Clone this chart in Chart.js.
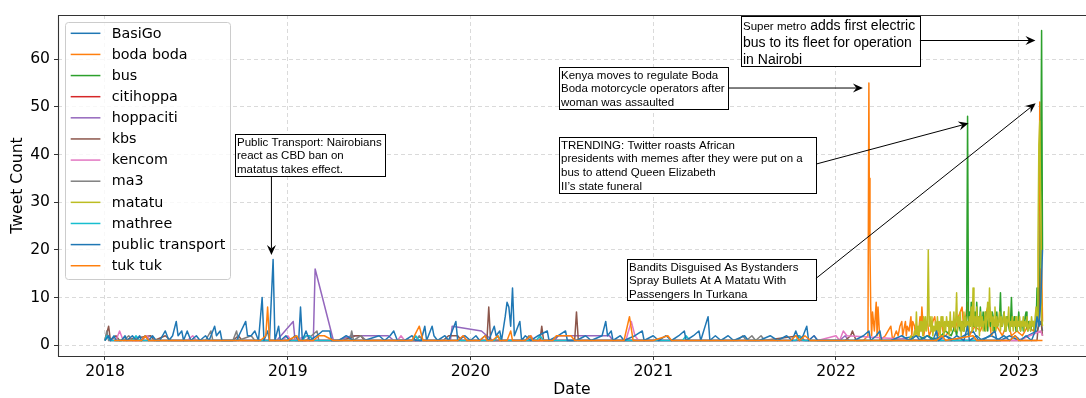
<!DOCTYPE html>
<html><head><meta charset="utf-8">
<script src="https://cdn.jsdelivr.net/npm/chart.js@4.4.0/dist/chart.umd.min.js"></script>
<style>html,body{margin:0;padding:0;background:#fff;overflow:hidden}canvas{display:block}</style>
</head><body>
<canvas id="c" width="1086" height="398"></canvas>
<script>
// ---- data: [decimal year, tweet count] ----
const seriesNames = ['BasiGo','boda boda','bus','citihoppa','hoppaciti','kbs','kencom','ma3','matatu','mathree','public transport','tuk tuk'];
const seriesColors = ['#1f77b4','#ff7f0e','#2ca02c','#d62728','#9467bd','#8c564b','#e377c2','#7f7f7f','#bcbd22','#17becf','#1f77b4','#ff7f0e'];
const yearTicks = [2018,2019,2020,2021,2022,2023];
const countTicks = [0,10,20,30,40,50,60];

const basiGo = [[2022.30,1],[2022.45,2],[2022.50,1],[2022.60,2],[2022.65,1],[2022.75,3],[2022.78,1],[2022.85,2],[2022.90,1],[2022.95,2],[2023.00,1],[2023.05,2],[2023.10,3],[2023.12,5],[2023.13,3]];
const bodaBoda = [[2022.10,1],[2022.15,1],[2022.175,2],[2022.18,55],[2022.182,35],[2022.186,20],[2022.19,8],[2022.195,2],[2022.20,7],[2022.21,3],[2022.22,9],[2022.225,2],[2022.23,8],[2022.24,1],[2022.27,2],[2022.30,4],[2022.31,1],[2022.33,3],[2022.34,2],[2022.35,4],[2022.36,5],[2022.365,2],[2022.37,3],[2022.38,5],[2022.385,2],[2022.39,4],[2022.40,3],[2022.41,6],[2022.415,2],[2022.42,5],[2022.43,4],[2022.435,2],[2022.44,3],[2022.45,2],[2022.46,6],[2022.465,3],[2022.47,8],[2022.48,2],[2022.49,4],[2022.50,5],[2022.51,2],[2022.52,3],[2022.53,5],[2022.54,6],[2022.55,3],[2022.56,2],[2022.57,4],[2022.58,4],[2022.59,2],[2022.60,2],[2022.62,3],[2022.63,5],[2022.65,3],[2022.67,6],[2022.69,8],[2022.70,3],[2022.72,9],[2022.73,2],[2022.76,4],[2022.79,3],[2022.81,5],[2022.83,8],[2022.85,2],[2022.88,4],[2022.91,2],[2022.94,5],[2022.96,2],[2022.99,3],[2023.02,2],[2023.05,4],[2023.08,3],[2023.10,6],[2023.11,12],[2023.115,51],[2023.12,30],[2023.13,5]];
const bus = [[2022.45,1],[2022.50,2],[2022.55,1],[2022.60,3],[2022.63,2],[2022.65,4],[2022.66,2],[2022.67,5],[2022.68,3],[2022.69,5],[2022.70,3],[2022.705,6],[2022.71,4],[2022.715,6],[2022.72,48],[2022.725,5],[2022.73,7],[2022.735,4],[2022.74,9],[2022.745,5],[2022.75,4],[2022.755,6],[2022.76,7],[2022.765,3],[2022.77,9],[2022.775,5],[2022.78,6],[2022.785,4],[2022.79,8],[2022.795,5],[2022.80,4],[2022.805,7],[2022.81,6],[2022.815,3],[2022.82,7],[2022.825,5],[2022.83,3],[2022.835,6],[2022.84,8],[2022.845,4],[2022.85,5],[2022.855,7],[2022.86,6],[2022.865,3],[2022.87,4],[2022.875,6],[2022.88,7],[2022.885,4],[2022.89,5],[2022.895,6],[2022.90,11],[2022.905,4],[2022.91,4],[2022.915,6],[2022.92,7],[2022.925,3],[2022.93,5],[2022.935,6],[2022.94,6],[2022.945,4],[2022.95,3],[2022.955,5],[2022.96,10],[2022.965,4],[2022.97,4],[2022.975,6],[2022.98,6],[2022.985,3],[2022.99,5],[2022.995,4],[2023.00,7],[2023.005,4],[2023.01,3],[2023.015,5],[2023.02,5],[2023.025,3],[2023.03,4],[2023.035,6],[2023.04,7],[2023.045,4],[2023.05,3],[2023.055,5],[2023.06,5],[2023.065,3],[2023.07,4],[2023.075,5],[2023.08,5],[2023.085,3],[2023.09,3],[2023.095,4],[2023.10,12],[2023.105,5],[2023.11,8],[2023.115,12],[2023.12,30],[2023.125,66],[2023.13,20]];
const citihoppa = [[2018.10,1],[2018.20,1],[2019.00,1],[2019.50,1],[2020.20,1],[2021.00,1]];
const hoppaciti = [[2018.94,1],[2019.03,5],[2019.04,1],[2019.14,1],[2019.15,16],[2019.25,1],[2019.27,1],[2019.35,2],[2019.55,2],[2019.58,1],[2019.89,1],[2019.90,4],[2020.06,3],[2020.09,2],[2020.12,1],[2020.46,1],[2020.48,2],[2020.76,2],[2020.78,1],[2022.02,1],[2022.05,2],[2022.07,1]];
const kbs = [[2018.00,1],[2018.02,4],[2018.03,1],[2018.06,2],[2018.08,1],[2018.25,2],[2018.27,1],[2018.33,2],[2018.36,1],[2018.70,1],[2018.73,2],[2018.75,1],[2019.30,1],[2019.37,2],[2019.40,2],[2019.42,1],[2019.85,1],[2019.88,2],[2019.93,2],[2019.95,1],[2020.09,1],[2020.10,8],[2020.11,1],[2020.38,1],[2020.39,4],[2020.40,1],[2020.57,1],[2020.58,7],[2020.59,1],[2020.90,1],[2021.00,1],[2021.50,1],[2021.60,1],[2021.80,2],[2021.83,1],[2022.05,1],[2022.08,2],[2022.09,3],[2022.11,1],[2022.90,1],[2023.10,1],[2023.115,8],[2023.12,16],[2023.125,4],[2023.13,2]];
const kencom = [[2018.02,1],[2018.06,1],[2018.08,3],[2018.10,1],[2018.20,1],[2018.23,2],[2018.25,1],[2018.45,1],[2018.48,2],[2018.50,1],[2018.97,1],[2019.00,2],[2019.02,1],[2019.12,2],[2019.14,1],[2019.30,1],[2019.60,1],[2019.62,2],[2019.64,1],[2019.94,1],[2019.96,2],[2019.98,1],[2020.30,1],[2020.33,2],[2020.35,1],[2020.85,1],[2020.88,5],[2020.90,2],[2020.92,1],[2021.50,1],[2021.85,1],[2021.88,2],[2021.90,1],[2022.00,2],[2022.02,1],[2022.04,3],[2022.06,2],[2022.50,1],[2023.00,1],[2023.12,3],[2023.13,2]];
const ma3 = [[2018.00,1],[2018.01,3],[2018.02,1],[2018.10,1],[2018.13,2],[2018.15,1],[2018.30,1],[2018.55,1],[2018.58,3],[2018.59,1],[2018.70,1],[2018.72,3],[2018.73,1],[2018.80,2],[2018.82,1],[2019.10,1],[2019.16,3],[2019.17,1],[2019.34,1],[2019.35,3],[2019.36,1],[2019.40,2],[2019.43,1],[2019.70,1],[2019.72,2],[2019.74,1],[2020.00,1],[2020.30,1],[2020.32,2],[2020.34,1],[2020.60,1],[2021.20,1],[2021.46,1],[2021.49,2],[2021.51,1],[2021.54,2],[2021.56,1],[2021.59,2],[2021.61,1],[2022.10,1],[2022.90,1]];
const matatu = [[2022.40,1],[2022.41,2],[2022.42,1],[2022.43,3],[2022.435,2],[2022.44,7],[2022.445,2],[2022.45,4],[2022.455,2],[2022.46,5],[2022.465,3],[2022.47,5],[2022.475,2],[2022.48,6],[2022.485,3],[2022.49,6],[2022.495,3],[2022.50,5],[2022.505,20],[2022.51,4],[2022.515,6],[2022.52,3],[2022.525,6],[2022.53,2],[2022.535,4],[2022.54,3],[2022.545,5],[2022.55,2],[2022.555,6],[2022.56,3],[2022.565,5],[2022.57,2],[2022.575,6],[2022.58,4],[2022.585,6],[2022.59,2],[2022.595,5],[2022.60,3],[2022.605,6],[2022.61,4],[2022.615,5],[2022.62,2],[2022.625,7],[2022.63,3],[2022.635,5],[2022.64,4],[2022.645,7],[2022.65,3],[2022.655,5],[2022.66,11],[2022.665,3],[2022.67,6],[2022.675,4],[2022.68,7],[2022.685,2],[2022.69,5],[2022.695,3],[2022.70,7],[2022.705,4],[2022.71,6],[2022.715,3],[2022.72,5],[2022.725,2],[2022.73,6],[2022.735,4],[2022.74,8],[2022.745,3],[2022.75,12],[2022.755,4],[2022.76,6],[2022.765,3],[2022.77,8],[2022.775,4],[2022.78,6],[2022.785,2],[2022.79,7],[2022.795,4],[2022.80,6],[2022.805,3],[2022.81,5],[2022.815,7],[2022.82,3],[2022.825,6],[2022.83,9],[2022.835,4],[2022.84,12],[2022.845,5],[2022.85,7],[2022.855,3],[2022.86,6],[2022.865,4],[2022.87,8],[2022.875,3],[2022.88,6],[2022.885,4],[2022.89,5],[2022.895,7],[2022.90,3],[2022.905,6],[2022.91,4],[2022.915,5],[2022.92,7],[2022.925,3],[2022.93,6],[2022.935,4],[2022.94,5],[2022.945,8],[2022.95,3],[2022.955,5],[2022.96,4],[2022.965,6],[2022.97,3],[2022.975,5],[2022.98,4],[2022.985,6],[2022.99,3],[2022.995,5],[2023.00,4],[2023.005,6],[2023.01,3],[2023.015,5],[2023.02,4],[2023.025,6],[2023.03,3],[2023.035,5],[2023.04,4],[2023.045,6],[2023.05,3],[2023.055,4],[2023.06,5],[2023.065,3],[2023.07,6],[2023.075,4],[2023.08,5],[2023.085,3],[2023.09,6],[2023.095,8],[2023.10,5],[2023.105,20],[2023.11,42],[2023.115,47],[2023.12,30],[2023.125,6],[2023.13,4]];
const mathree = [[2018.00,1],[2018.01,2],[2018.03,1],[2018.15,1],[2018.17,2],[2018.19,1],[2018.45,1],[2018.95,1],[2019.08,1],[2019.10,2],[2019.12,2],[2019.14,1],[2019.55,1],[2019.68,1],[2019.70,2],[2019.72,1],[2020.13,1],[2020.15,2],[2020.17,1],[2020.36,1],[2020.38,2],[2020.40,1],[2021.16,1],[2021.18,2],[2021.20,1],[2021.78,1],[2021.80,2],[2021.82,1],[2022.70,1],[2022.90,1]];
const publicTransport = [[2018.00,1],[2018.02,2],[2018.03,1],[2018.05,2],[2018.06,1],[2018.09,1],[2018.11,2],[2018.12,1],[2018.15,2],[2018.17,1],[2018.19,2],[2018.20,1],[2018.22,2],[2018.24,1],[2018.26,2],[2018.28,1],[2018.30,1],[2018.33,3],[2018.35,1],[2018.37,2],[2018.39,5],[2018.40,2],[2018.42,3],[2018.43,1],[2018.45,3],[2018.47,1],[2018.50,2],[2018.52,1],[2018.55,2],[2018.57,1],[2018.60,4],[2018.61,2],[2018.63,3],[2018.64,1],[2018.68,1],[2018.72,1],[2018.77,5],[2018.78,2],[2018.80,2],[2018.82,3],[2018.84,1],[2018.86,10],[2018.87,1],[2018.89,3],[2018.90,1],[2018.92,18],[2018.93,1],[2018.95,4],[2018.96,1],[2018.99,2],[2019.01,1],[2019.04,2],[2019.06,1],[2019.07,8],[2019.08,1],[2019.10,3],[2019.12,1],[2019.16,2],[2019.19,3],[2019.20,3],[2019.23,3],[2019.24,1],[2019.28,1],[2019.32,2],[2019.36,1],[2019.42,1],[2019.50,2],[2019.53,1],[2019.56,2],[2019.58,3],[2019.60,1],[2019.64,1],[2019.68,2],[2019.70,1],[2019.73,1],[2019.75,4],[2019.76,1],[2019.79,4],[2019.80,2],[2019.82,1],[2019.86,2],[2019.88,1],[2019.92,5],[2019.93,1],[2019.97,2],[2020.00,1],[2020.03,2],[2020.05,1],[2020.08,2],[2020.10,1],[2020.13,4],[2020.14,2],[2020.16,3],[2020.17,1],[2020.19,6],[2020.20,9],[2020.21,8],[2020.22,4],[2020.23,12],[2020.24,2],[2020.25,3],[2020.27,5],[2020.28,1],[2020.30,2],[2020.33,1],[2020.37,2],[2020.42,3],[2020.43,1],[2020.48,2],[2020.52,3],[2020.53,1],[2020.58,1],[2020.63,2],[2020.66,1],[2020.72,2],[2020.74,5],[2020.75,2],[2020.77,3],[2020.78,1],[2020.82,2],[2020.84,1],[2020.90,2],[2020.94,3],[2020.95,1],[2021.00,2],[2021.03,1],[2021.07,2],[2021.10,1],[2021.14,2],[2021.17,3],[2021.18,1],[2021.22,2],[2021.25,3],[2021.26,1],[2021.30,6],[2021.31,1],[2021.34,2],[2021.37,1],[2021.41,2],[2021.44,1],[2021.50,2],[2021.52,1],[2021.58,1],[2021.64,2],[2021.68,1],[2021.73,2],[2021.76,1],[2021.78,3],[2021.80,1],[2021.82,2],[2021.84,4],[2021.85,1],[2021.88,2],[2021.90,1],[2021.95,1],[2022.05,1],[2022.10,1],[2022.15,2],[2022.18,3],[2022.19,1],[2022.22,2],[2022.24,3],[2022.25,1],[2022.30,1],[2022.36,2],[2022.40,1],[2022.44,2],[2022.46,1],[2022.50,2],[2022.53,1],[2022.55,3],[2022.56,1],[2022.60,2],[2022.63,1],[2022.66,2],[2022.70,1],[2022.72,4],[2022.73,1],[2022.77,2],[2022.80,1],[2022.84,2],[2022.87,3],[2022.88,1],[2022.92,2],[2022.95,1],[2022.98,2],[2023.01,1],[2023.04,2],[2023.07,1],[2023.09,3],[2023.10,6],[2023.11,4],[2023.12,9],[2023.125,14],[2023.13,20]];
const tukTuk = [[2018.05,1],[2018.20,1],[2018.22,2],[2018.24,1],[2018.40,1],[2018.60,1],[2018.85,1],[2018.88,2],[2018.89,8],[2018.90,1],[2019.00,1],[2019.05,2],[2019.06,1],[2019.14,1],[2019.17,2],[2019.20,2],[2019.25,1],[2019.40,1],[2019.60,1],[2019.68,1],[2019.72,4],[2019.74,1],[2019.85,1],[2019.93,1],[2019.96,2],[2019.98,1],[2020.05,1],[2020.08,2],[2020.09,1],[2020.12,1],[2020.15,2],[2020.16,1],[2020.20,1],[2020.22,3],[2020.23,1],[2020.30,1],[2020.33,2],[2020.34,1],[2020.45,1],[2020.47,2],[2020.55,2],[2020.57,1],[2020.70,1],[2020.84,1],[2020.87,6],[2020.89,1],[2021.00,1],[2021.08,2],[2021.10,1],[2021.40,1],[2021.75,1],[2021.78,2],[2021.80,1],[2021.83,2],[2021.86,1],[2022.00,1],[2022.30,1],[2022.40,1],[2022.55,1],[2022.58,2],[2022.60,1],[2022.75,2],[2022.77,1],[2022.95,1],[2022.98,2],[2023.00,1],[2023.13,1]];

const seriesData = [basiGo,bodaBoda,bus,citihoppa,hoppaciti,kbs,kencom,ma3,matatu,mathree,publicTransport,tukTuk];

// annotations: box corners and arrow in data coordinates
const annotations = [
  {lines:[[['Public Transport: Nairobians',11.5]],[['react as CBD ban on',11.5]],[['matatus takes effect.',11.5]]],
   box:[2018.7127,44.24,2019.5348,35.43], from:[2018.9108,35.43], to:[2018.9108,18.93]},
  {lines:[[['Kenya moves to regulate Boda',11.5]],[['Boda motorcycle operators after',11.5]],[['woman was assaulted',11.5]]],
   box:[2020.4861,58.34,2021.4111,49.54], from:[2021.4111,53.94], to:[2022.1473,53.94]},
  {lines:[[['TRENDING: Twitter roasts African',11.5]],[['presidents with memes after they were put on a',11.5]],[['bus to attend Queen Elizabeth',11.5]],[['II\u2019s state funeral',11.5]]],
   box:[2020.4861,43.66,2021.8900,32.03], from:[2021.8927,38.01], to:[2022.7252,46.54]},
  {lines:[[['Super metro',11.5],[' adds first electric',14]],[['bus to its fleet for operation',14]],[['in Nairobi',14]]],
   box:[2021.4795,69.14,2022.4592,58.55], from:[2022.4592,63.9], to:[2023.0914,63.9]},
  {lines:[[['Bandits Disguised As Bystanders',11.5]],[['Spray Bullets At A Matatu With',11.5]],[['Passengers In Turkana',11.5]]],
   box:[2020.8555,18.09,2021.8900,9.39], from:[2021.8900,14.0], to:[2023.0925,50.73]}
];

const TICK_FONT = {family:'"DejaVu Sans"', size:15.6};

const framePlugin = {
  id:'frame',
  afterDatasetsDraw(chart){
    const {ctx, chartArea:ca} = chart;
    // legend
    ctx.save();
    ctx.font = '14.3px "DejaVu Sans"';
    const maxW = Math.max(...seriesNames.map(n=>ctx.measureText(n).width));
    const x0 = ca.left+7.4, y0 = ca.top+7.3;
    const w = 5.3+29.7+11.3+maxW+5.3;
    const rowH = 21.13;
    const h = 11 + (seriesNames.length-1)*rowH + 13.6;
    ctx.beginPath();
    ctx.roundRect(Math.round(x0)+0.5, Math.round(y0)+0.5, Math.round(w), Math.round(h), 3);
    ctx.fillStyle='rgba(255,255,255,0.8)'; ctx.fill();
    ctx.strokeStyle='#cccccc'; ctx.lineWidth=1; ctx.stroke();
    seriesNames.forEach((n,i)=>{
      const cy = y0+11+i*rowH;
      ctx.strokeStyle=seriesColors[i]; ctx.lineWidth=1.5;
      ctx.beginPath(); ctx.moveTo(x0+5.3,cy); ctx.lineTo(x0+35,cy); ctx.stroke();
      ctx.fillStyle='#000'; ctx.textBaseline='middle'; ctx.textAlign='left';
      ctx.fillText(n, x0+46.3, cy+0.5);
    });
    ctx.restore();
  },
  afterDraw(chart){
    const {ctx, chartArea:ca, scales:{x,y}} = chart;
    ctx.save();
    // spines
    ctx.strokeStyle='#333'; ctx.lineWidth=1.1;
    const L = Math.round(ca.left)+0.5, T = Math.round(ca.top)+0.5, B = Math.round(ca.bottom)+0.5;
    ctx.beginPath();
    ctx.moveTo(chart.width, T); ctx.lineTo(L, T); ctx.lineTo(L, B); ctx.lineTo(chart.width, B);
    ctx.stroke();
    // annotations
    annotations.forEach(a=>{
      const bx1 = Math.round(x.getPixelForValue(a.box[0]))+0.5, by1 = Math.round(y.getPixelForValue(a.box[1]))+0.5;
      const bx2 = Math.round(x.getPixelForValue(a.box[2]))+0.5, by2 = Math.round(y.getPixelForValue(a.box[3]))+0.5;
      ctx.fillStyle='#fff'; ctx.fillRect(bx1,by1,bx2-bx1,by2-by1);
      ctx.strokeStyle='#000'; ctx.lineWidth=1; ctx.strokeRect(bx1,by1,bx2-bx1,by2-by1);
      ctx.fillStyle='#000'; ctx.textBaseline='alphabetic'; ctx.textAlign='left';
      let cy = by1;
      a.lines.forEach(line=>{
        const maxS = Math.max(...line.map(s=>s[1]));
        const lh = maxS*1.2;
        const base = cy + lh/2 + maxS*0.36;
        let cx = bx1+1.5;
        line.forEach(([t,s])=>{
          ctx.font = s+'px "Liberation Sans", Arial, sans-serif';
          ctx.fillText(t, cx, base);
          cx += ctx.measureText(t).width;
        });
        cy += lh;
      });
      // arrow
      const sx = x.getPixelForValue(a.from[0]), sy = y.getPixelForValue(a.from[1]);
      const tx = x.getPixelForValue(a.to[0]), ty = y.getPixelForValue(a.to[1]);
      const ang = Math.atan2(ty-sy, tx-sx);
      const hl = 10, hw = 4.5, notch = 6.5;
      const cos = Math.cos(ang), sin = Math.sin(ang);
      ctx.strokeStyle='#000'; ctx.lineWidth=1;
      ctx.beginPath(); ctx.moveTo(sx,sy); ctx.lineTo(tx-cos*notch, ty-sin*notch); ctx.stroke();
      ctx.beginPath();
      ctx.moveTo(tx,ty);
      ctx.lineTo(tx-cos*hl - sin*hw, ty-sin*hl + cos*hw);
      ctx.lineTo(tx-cos*notch, ty-sin*notch);
      ctx.lineTo(tx-cos*hl + sin*hw, ty-sin*hl - cos*hw);
      ctx.closePath(); ctx.fillStyle='#000'; ctx.fill();
    });
    ctx.restore();
  }
};

new Chart(document.getElementById('c'), {
  type:'line',
  data:{
    datasets: seriesNames.map((name,i)=>({
      label:name,
      data: seriesData[i].map(([d,v])=>({x:d,y:v})),
      borderColor: seriesColors[i],
      backgroundColor: seriesColors[i],
      borderWidth:1.5,
      pointRadius:0, pointHoverRadius:0,
      tension:0, fill:false,
      borderJoinStyle:'round',
      order: seriesNames.length - i
    }))
  },
  options:{
    responsive:false, animation:false,
    layout:{padding:{left:0,top:15,right:0,bottom:0}},
    plugins:{legend:{display:false}, tooltip:{enabled:false}},
    scales:{
      x:{
        type:'linear', min:2017.743, max:2023.368,
        afterBuildTicks:(s)=>{ s.ticks = yearTicks.map(v=>({value:v})); },
        afterFit:(s)=>{ s.height = 42; },
        ticks:{ font:TICK_FONT, color:'#000', padding:3, autoSkip:false, maxRotation:0, callback:(v)=>String(v) },
        grid:{ color:'#dadada', lineWidth:1, tickColor:'#333', tickLength:4, tickWidth:1, tickBorderDash:[1,0] },
        border:{ display:false, dash:[4,3] },
        title:{ display:true, text:'Date', font:{family:'"DejaVu Sans"', size:15.6, lineHeight:1.0}, color:'#000', padding:{top:0,bottom:0} }
      },
      y:{
        type:'linear', min:-2.25, max:69.25,
        afterBuildTicks:(s)=>{ s.ticks = countTicks.map(v=>({value:v})); },
        afterFit:(s)=>{ s.width = 58; },
        ticks:{ font:TICK_FONT, color:'#000', padding:4, callback:(v)=>String(v) },
        grid:{ color:'#dadada', lineWidth:1, tickColor:'#333', tickLength:4, tickWidth:1, tickBorderDash:[1,0] },
        border:{ display:false, dash:[4,3] },
        title:{ display:true, text:'Tweet Count', font:TICK_FONT, color:'#000', padding:{top:9,bottom:0} }
      }
    }
  },
  plugins:[framePlugin]
});
</script>
</body></html>
